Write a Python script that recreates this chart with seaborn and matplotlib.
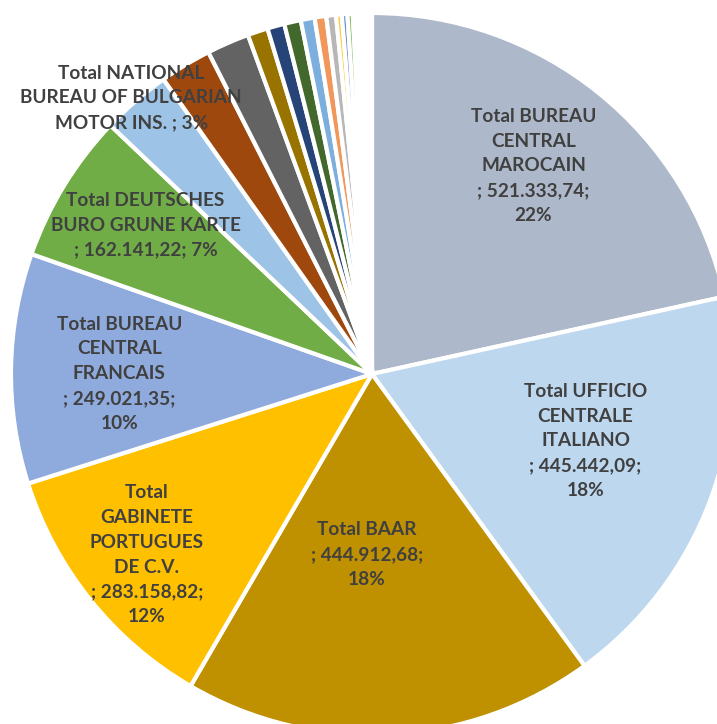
import matplotlib
matplotlib.use("Agg")
import matplotlib.pyplot as plt
import seaborn as sns
import numpy as np

# --- data ---
names = [
    "BUREAU CENTRAL MAROCAIN", "UFFICIO CENTRALE ITALIANO", "BAAR",
    "GABINETE PORTUGUES DE C.V.", "BUREAU CENTRAL FRANCAIS",
    "DEUTSCHES BURO GRUNE KARTE", "NATIONAL BUREAU OF BULGARIAN MOTOR INS.",
    "s08", "s09", "s10", "s11", "s12", "s13", "s14", "s15", "s16", "s17", "s18",
    "t01", "t02", "t03", "t04", "t05", "t06", "t07", "t08", "t09", "t10",
]
values = [
    521333.74, 445442.09, 444912.68, 283158.82, 249021.35, 162141.22, 75000.0,
    56000, 46000, 22000, 18500, 18000, 15000, 12500, 10500, 6200, 6000, 5800,
    2900, 2600, 2400, 2200, 2000, 1900, 1800, 1700, 1600, 1400,
]
colors = [
    "#ADB9CA", "#BDD7EE", "#BF9000", "#FFC000", "#8FAADC", "#70AD47", "#9DC3E6",
    "#9E480E", "#636363", "#997300", "#264478", "#43682B", "#7CAFDD", "#F1975A",
    "#B7B7B7", "#FFCD33", "#698ED0", "#8CC168",
    "#C55A11", "#7F7F7F", "#D6A300", "#335AA1", "#5A8A39", "#A9CBEA",
    "#F4B183", "#C9C9C9", "#FFD966", "#8FAADC",
]
label_templates = [
    "Total BUREAU\nCENTRAL\nMAROCAIN\n; {v};\n{p}",
    "Total UFFICIO\nCENTRALE\nITALIANO\n; {v};\n{p}",
    "Total BAAR\n; {v};\n{p}",
    "Total\nGABINETE\nPORTUGUES\nDE C.V.\n; {v};\n{p}",
    "Total BUREAU\nCENTRAL\nFRANCAIS\n; {v};\n{p}",
    "Total DEUTSCHES\nBURO GRUNE KARTE\n; {v}; {p}",
    "Total NATIONAL\nBUREAU OF BULGARIAN\nMOTOR INS. ; {p}",
]
# label placement: radius fraction and angle shift from wedge middle (degrees)
label_r = [0.73, 0.62, 0.50, 0.80, 0.70, 0.75, 1.015]
label_dtheta = [1.0, 3.4, -4.6, 0.0, 0.8, -1.8, 0.2]


def eu(v):
    s = f"{v:,.2f}"
    return s.replace(",", "X").replace(".", ",").replace("X", ".")


sns.set_theme(style="white")
plt.rcParams["font.family"] = ["Lato", "DejaVu Sans"]

fig = plt.figure(figsize=(7.17, 7.24), dpi=100)
ax = fig.add_axes([0, 0, 1, 1])

wedges, _ = ax.pie(values, colors=colors, startangle=90, counterclock=False,
                   radius=1.0, wedgeprops=dict(edgecolor="white", linewidth=3.0))

total = float(np.sum(values))
for i, tmpl in enumerate(label_templates):
    w = wedges[i]
    mid = np.deg2rad((w.theta1 + w.theta2) / 2 + label_dtheta[i])
    txt = tmpl.format(v=eu(values[i]), p=f"{values[i] / total * 100:.0f}%")
    ax.text(label_r[i] * np.cos(mid), label_r[i] * np.sin(mid), txt,
            ha="center", va="center", fontsize=13.7, fontweight="bold",
            color="#404040", linespacing=1.55)

# centre at (372, 374) px, radius 361 px
px = 361.0
ax.set_xlim(-372 / px, (717 - 372) / px)
ax.set_ylim(-(724 - 374) / px, 374 / px)
ax.set_aspect("auto")
ax.axis("off")

fig.savefig("out.png", dpi=100)
